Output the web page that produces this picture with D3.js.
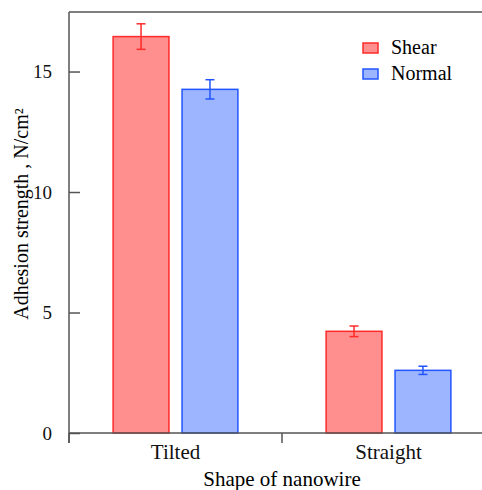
<!DOCTYPE html>
<html><head><meta charset="utf-8"><script src="https://cdn.jsdelivr.net/npm/d3@7"></script></head>
<body style="margin:0">
<svg id="chart" width="482" height="490"></svg>
<script>
const categories = ['Tilted', 'Straight'];
const series = ['Shear', 'Normal'];
const shearValues = [16.45, 4.22];
const shearErrors = [0.53, 0.22];
const normalValues = [14.26, 2.6];
const normalErrors = [0.4, 0.17];
const yTicks = [0, 5, 10, 15];

const W = 482, H = 490;
const plotLeft = 69, plotTop = 12, plotBottom = 433, plotRight = 495;
const FONT = 'Liberation Serif';

const svg = d3.select('#chart');

const x = d3.scaleBand().domain(categories).range([plotLeft, plotRight]).padding(0);
const xInner = d3.scaleBand().domain(series).range([0, x.bandwidth()])
  .paddingInner(0.19).paddingOuter(0.64);
const y = d3.scaleLinear().domain([0, 17.47]).range([plotBottom, plotTop]);

const colors = {
  Shear: { fill: '#ff8f8f', stroke: '#ff2a2a' },
  Normal: { fill: '#9db5ff', stroke: '#2255ff' }
};

const rows = [];
categories.forEach((c, i) => {
  rows.push({ cat: c, s: 'Shear', v: shearValues[i], e: shearErrors[i] });
  rows.push({ cat: c, s: 'Normal', v: normalValues[i], e: normalErrors[i] });
});

// bars
svg.selectAll('.bar')
  .data(rows)
  .enter().append('rect')
  .attr('class', 'bar')
  .attr('x', d => x(d.cat) + xInner(d.s))
  .attr('y', d => y(d.v))
  .attr('width', xInner.bandwidth())
  .attr('height', d => y(0) - y(d.v))
  .attr('fill', d => colors[d.s].fill)
  .attr('stroke', d => colors[d.s].stroke)
  .attr('stroke-width', 1.5);

// error bars
const eb = svg.selectAll('.err').data(rows).enter().append('g')
  .attr('stroke', d => colors[d.s].stroke)
  .attr('stroke-width', 1.5);
const cx = d => x(d.cat) + xInner(d.s) + xInner.bandwidth() / 2;
eb.append('line')
  .attr('x1', cx).attr('x2', cx)
  .attr('y1', d => y(d.v + d.e)).attr('y2', d => y(d.v - d.e));
eb.append('line')
  .attr('x1', d => cx(d) - 4.5).attr('x2', d => cx(d) + 4.5)
  .attr('y1', d => y(d.v + d.e)).attr('y2', d => y(d.v + d.e));
eb.append('line')
  .attr('x1', d => cx(d) - 4.5).attr('x2', d => cx(d) + 4.5)
  .attr('y1', d => y(d.v - d.e)).attr('y2', d => y(d.v - d.e));

// y axis, ticks pointing inward
const yAxis = svg.append('g')
  .attr('transform', `translate(${plotLeft},0)`)
  .call(d3.axisLeft(y).tickValues(yTicks).tickSizeInner(-11).tickSizeOuter(0).tickPadding(17))
  .attr('font-family', FONT).attr('font-size', 19);
yAxis.select('.domain').remove();
yAxis.selectAll('.tick line').attr('stroke', '#555').attr('stroke-width', 1.5);
yAxis.selectAll('.tick text').attr('font-family', FONT).attr('fill', '#111');

// x axis, ticks only at the category boundaries
const xAxis = svg.append('g')
  .attr('transform', `translate(0,${plotBottom})`)
  .call(d3.axisBottom(x).tickSize(0).tickPadding(11))
  .attr('font-family', FONT).attr('font-size', 21);
xAxis.select('.domain').remove();
xAxis.selectAll('.tick text').attr('font-family', FONT).attr('fill', '#111').attr('dy', '0.71em');
const bounds = [plotLeft, x('Straight')];
svg.selectAll('.bound').data(bounds).enter().append('line')
  .attr('x1', d => d).attr('x2', d => d)
  .attr('y1', plotBottom).attr('y2', plotBottom + 10)
  .attr('stroke', '#555').attr('stroke-width', 1.5);

// frame lines
svg.append('line').attr('x1', plotLeft).attr('x2', W).attr('y1', plotBottom).attr('y2', plotBottom)
  .attr('stroke', '#555').attr('stroke-width', 1.5);
svg.append('line').attr('x1', plotLeft).attr('x2', W).attr('y1', plotTop).attr('y2', plotTop)
  .attr('stroke', '#555').attr('stroke-width', 1.5);
svg.append('line').attr('x1', plotLeft).attr('x2', plotLeft).attr('y1', plotTop).attr('y2', plotBottom + 10)
  .attr('stroke', '#555').attr('stroke-width', 1.5);

// axis titles
svg.append('text')
  .attr('x', (plotLeft + plotRight) / 2).attr('y', 486)
  .attr('text-anchor', 'middle')
  .attr('font-family', FONT).attr('font-size', 21)
  .text('Shape of nanowire');
svg.append('text')
  .attr('transform', 'translate(28,214) rotate(-90)')
  .attr('text-anchor', 'middle')
  .attr('font-family', FONT).attr('font-size', 20)
  .text('Adhesion strength , N/cm²');

// legend
const legend = svg.append('g').attr('transform', 'translate(363,43)');
series.forEach((s, i) => {
  const g = legend.append('g').attr('transform', `translate(0,${i * 26})`);
  g.append('rect').attr('width', 15).attr('height', 10)
    .attr('fill', colors[s].fill).attr('stroke', colors[s].stroke).attr('stroke-width', 1.5);
  g.append('text').attr('x', 28).attr('y', 11)
    .attr('font-family', FONT).attr('font-size', 20)
    .text(s);
});
</script></body></html>
